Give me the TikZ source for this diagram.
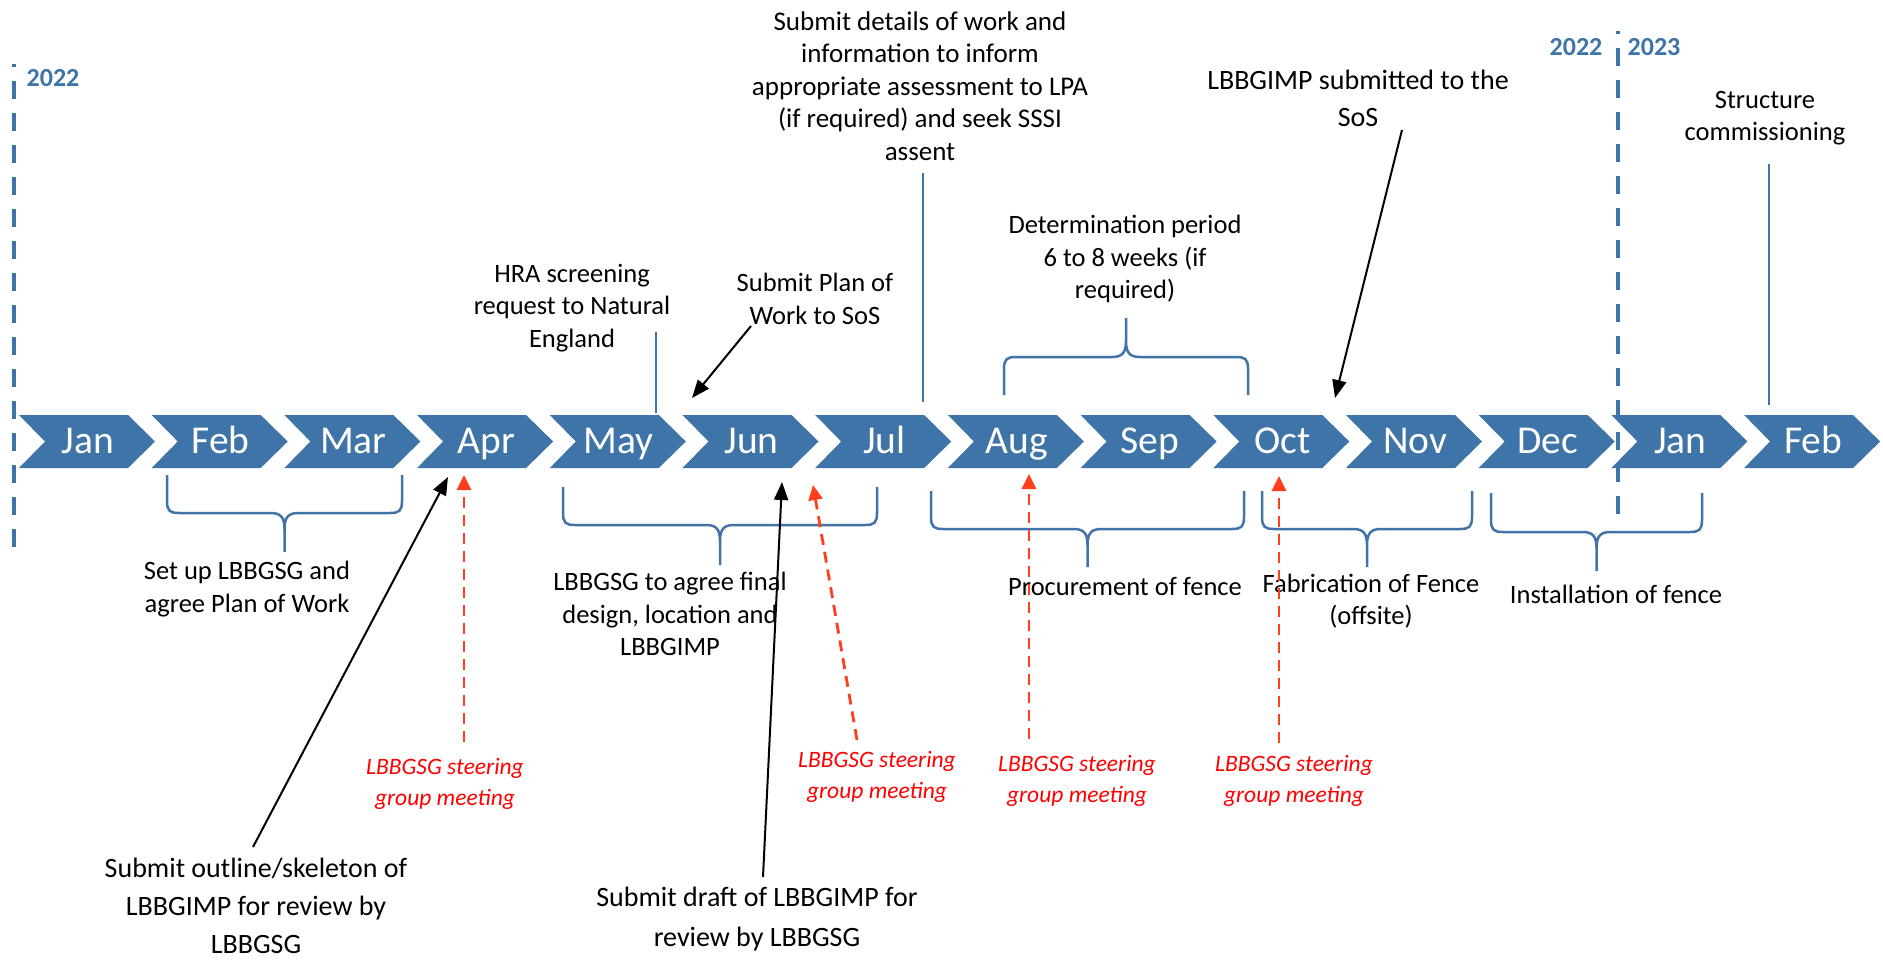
\documentclass[tikz,border=0pt]{standalone}
\usepackage{fontspec}
\setmainfont{Carlito}
\usetikzlibrary{arrows.meta}
\definecolor{chev}{RGB}{62,116,168}
\definecolor{brc}{RGB}{66,115,168}
\definecolor{redtxt}{RGB}{255,0,0}
\definecolor{redarr}{RGB}{255,62,30}
\tikzset{
  brace/.style={draw=brc,line width=2.5pt,line join=round},
  vline/.style={draw=brc,line width=2.5pt},
  yeardash/.style={draw=chev,line width=4.5pt,dash pattern=on 18pt off 14pt,dash phase=15pt},
  lbl/.style={font=\fontsize{26.5}{32.5}\selectfont,align=center,inner sep=0pt,text=black},
  redlbl/.style={font=\fontsize{23.5}{31.5}\selectfont\itshape,align=center,inner sep=0pt,text=redtxt},
  month/.style={font=\fontsize{39.5}{44}\selectfont,text=white,inner sep=0pt,anchor=base},
  year/.style={font=\fontsize{26}{30}\selectfont\bfseries,text=chev,inner sep=0pt},
  blackarrow/.style={draw=black,line width=2pt,-{Triangle[length=18pt,width=14pt]}},
  redarrow/.style={draw=redarr,line width=2.8pt,dash pattern=on 11pt off 7pt,-{Triangle[length=15pt,width=14pt]}},
}
\newcommand\tlbrace[6]{%
  \pgfmathsetmacro\bxt{(#1+#2)/2}%
  \draw[brace] (#1,#3) -- (#1,{#4-#6*12}) .. controls (#1,{#4-#6*2}) and ({#1+3},#4) .. ({#1+12},#4)
    -- ({\bxt-14},#4) .. controls ({\bxt-4},#4) and (\bxt,{#4+#6*4}) .. (\bxt,{#4+#6*16}) -- (\bxt,#5)
    (\bxt,{#4+#6*16}) .. controls (\bxt,{#4+#6*4}) and ({\bxt+4},#4) .. ({\bxt+14},#4)
    -- ({#2-12},#4) .. controls ({#2-3},#4) and (#2,{#4-#6*2}) .. (#2,{#4-#6*12}) -- (#2,#3);
}
\begin{document}
\begin{tikzpicture}[x=1pt,y=-1pt]
\useasboundingbox (0,0) rectangle (1883,960);
\fill[white] (0,0) rectangle (1883,960);

% chevrons
\foreach \m [count=\i from 0] in {Jan,Feb,Mar,Apr,May,Jun,Jul,Aug,Sep,Oct,Nov,Dec,Jan,Feb}{
  \pgfmathsetmacro\xo{19+132.7*\i}
  \fill[chev] (\xo,415) -- ++(109,0) -- ++(27,26.5) -- ++(-27,26.5) -- ++(-109,0) -- ++(26,-26.5) -- cycle;
  \node[month] (m\i) at ({\xo+69},453) {\m};
}

% year separators
\coordinate (ysA1) at (14,64);
\coordinate (ysA2) at (14,557);
\coordinate (ysB1) at (1618,31);
\coordinate (ysB2) at (1618,523);
\draw[yeardash] (ysA1) -- (ysA2);
\draw[yeardash] (ysB1) -- (ysB2);
\node[year] (y22a) at (53,78) {2022};
\node[year] (y22b) at (1576,47) {2022};
\node[year] (y23) at (1654,47) {2023};

% braces
\tlbrace{167}{402}{475}{513}{552}{1}
\tlbrace{563}{877}{487}{525}{565}{1}
\tlbrace{931}{1244}{491}{529}{567}{1}
\tlbrace{1262}{1472}{491}{529}{567}{1}
\tlbrace{1491}{1702}{493}{532}{571}{1}
\tlbrace{1004}{1248}{395}{357}{318}{-1}

% labels below
\node[lbl] (setup) at (247,589) {Set up LBBGSG and\\agree Plan of Work};
\node[lbl] (agree) at (670,614) {LBBGSG to agree final\\design, location and\\LBBGIMP};
\node[lbl] (proc) at (1125,587) {Procurement of fence};
\node[lbl] (fab) at (1371,601) {Fabrication of Fence\\(offsite)};
\node[lbl] (inst) at (1616,594) {Installation of fence};
\node[lbl,font=\fontsize{28}{38}\selectfont] (outline) at (256,906) {Submit outline/skeleton of\\LBBGIMP for review by\\LBBGSG};
\node[lbl,font=\fontsize{28}{40}\selectfont] (draft) at (757,919) {Submit draft of LBBGIMP for\\review by LBBGSG};

% labels above
\node[lbl,font=\fontsize{27}{32.5}\selectfont] (details) at (920,86) {Submit details of work and\\information to inform\\appropriate assessment to LPA\\(if required) and seek SSSI\\assent};
\node[lbl] (hra) at (572,308) {HRA screening\\request to Natural\\England};
\node[lbl] (plan) at (815,299) {Submit Plan of\\Work to SoS};
\node[lbl] (determ) at (1125,259) {Determination period\\6 to 8 weeks (if\\required)};
\node[lbl,font=\fontsize{28}{37}\selectfont] (sos) at (1358,98) {LBBGIMP submitted to the\\SoS};
\node[lbl] (struct) at (1765,118) {Structure\\commissioning};

% red labels
\node[redlbl] (r1) at (445,784) {LBBGSG steering\\group meeting};
\node[redlbl] (r2) at (877,777) {LBBGSG steering\\group meeting};
\node[redlbl] (r3) at (1077,781) {LBBGSG steering\\group meeting};
\node[redlbl] (r4) at (1294,781) {LBBGSG steering\\group meeting};

% vertical marker lines
\coordinate (hraA) at (656,332); \coordinate (hraB) at (656,413);
\coordinate (detA) at (923,173); \coordinate (detB) at (923,402);
\coordinate (strA) at (1769,164); \coordinate (strB) at (1769,405);
\draw[vline] (hraA) -- (hraB);
\draw[vline] (detA) -- (detB);
\draw[vline] (strA) -- (strB);

% black arrows
\coordinate (planS) at (751,326); \coordinate (planT) at (692,398);
\coordinate (sosS) at (1402,130); \coordinate (sosT) at (1335,398);
\coordinate (outS) at (253,847); \coordinate (outT) at (448,477);
\coordinate (drS) at (763,877); \coordinate (drT) at (782,482);
\draw[blackarrow] (planS) -- (planT);
\draw[blackarrow] (sosS) -- (sosT);
\draw[blackarrow] (outS) -- (outT);
\draw[blackarrow] (drS) -- (drT);

% red dashed arrows
\coordinate (a1S) at (464,742); \coordinate (a1T) at (464,475);
\coordinate (a2S) at (857,740); \coordinate (a2T) at (813,485);
\coordinate (a3S) at (1029,739); \coordinate (a3T) at (1029,474);
\coordinate (a4S) at (1279,743); \coordinate (a4T) at (1279,476);
\draw[redarrow] (a1S) -- (a1T);
\draw[redarrow] (a2S) -- (a2T);
\draw[redarrow] (a3S) -- (a3T);
\draw[redarrow] (a4S) -- (a4T);
\end{tikzpicture}
\end{document}
